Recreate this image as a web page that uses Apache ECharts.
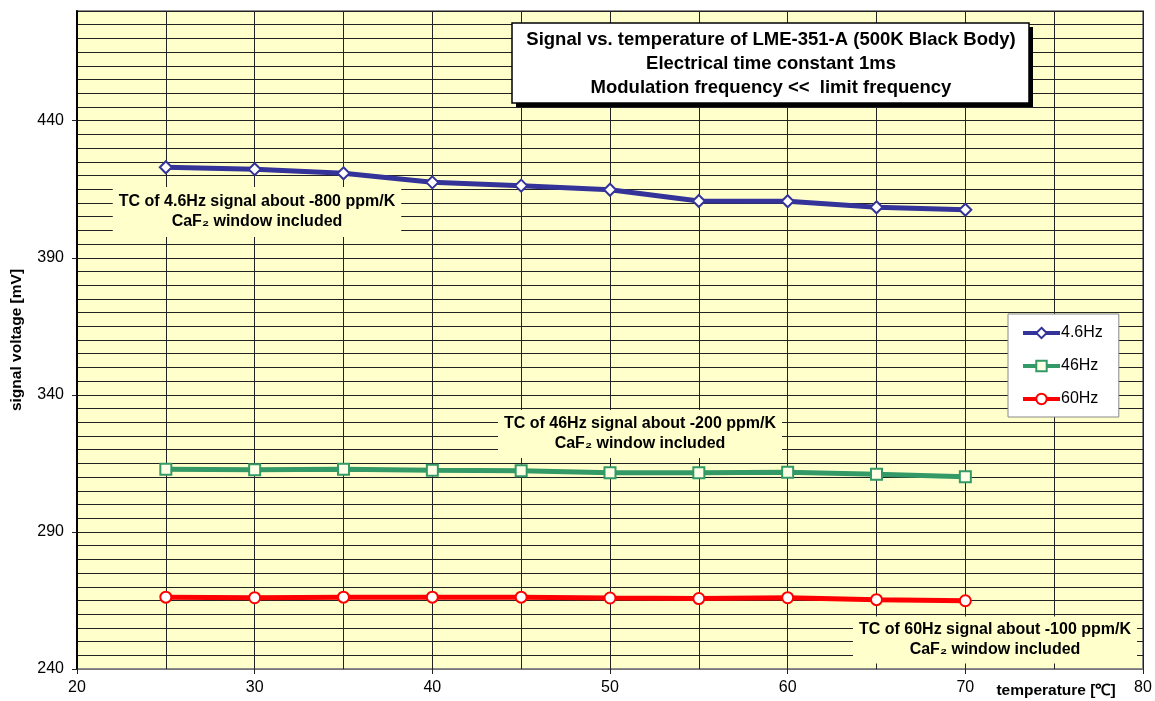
<!DOCTYPE html>
<html><head><meta charset="utf-8">
<script src="https://cdn.jsdelivr.net/npm/echarts@6/dist/echarts.min.js"></script>
<style>html,body{margin:0;padding:0;background:#fff}#c{width:1155px;height:701px}</style>
</head><body><div id="c"></div>
<script>
const temps = [25, 30, 35, 40, 45, 50, 55, 60, 65, 70];
const s4p6Hz = [423.0, 422.3, 420.8, 417.5, 416.3, 414.8, 410.7, 410.6, 408.4, 407.5];
const s46Hz = [312.9, 312.7, 312.9, 312.5, 312.3, 311.6, 311.6, 311.8, 311.0, 310.1];
const s60Hz = [266.2, 266.0, 266.2, 266.2, 266.2, 265.9, 265.7, 266.0, 265.3, 264.9];
const seriesNames = ['4.6Hz', '46Hz', '60Hz'];
const yTickLabels = [240, 290, 340, 390, 440];
const xTickLabels = [20, 30, 40, 50, 60, 70, 80];
const titleLines = ['Signal vs. temperature of LME-351-A (500K Black Body)', 'Electrical time constant 1ms', 'Modulation frequency <<  limit frequency'];
const notes = [
  ['TC of 4.6Hz signal about -800 ppm/K', 'CaF₂ window included'],
  ['TC of 46Hz signal about -200 ppm/K', 'CaF₂ window included'],
  ['TC of 60Hz signal about -100 ppm/K', 'CaF₂ window included']
];
const xName = 'temperature [℃]';
const yName = 'signal voltage [mV]';

const pair = arr => temps.map((t, i) => [t, arr[i]]);
const FONT = 'Liberation Sans, Arial, sans-serif';
const chart = echarts.init(document.getElementById('c'));
const grid = {left: 77, right: 12, top: 11, bottom: 32, show: true, backgroundColor: '#FFFFCC', borderColor: '#8c8c8c', borderWidth: 2};
const lineColors = ['#333399', '#339966', '#FF0000'];
const symbols = ['diamond', 'rect', 'circle'];
const symSizes = [12, 11, 11];
const datas = [s4p6Hz, s46Hz, s60Hz];

chart.setOption({
  animation: false,
  grid: grid,
  legend: {
    orient: 'vertical', left: 1008, top: 314,
    padding: [11, 16, 10, 13], itemGap: 17, itemWidth: 37, itemHeight: 13,
    backgroundColor: '#fff', borderColor: '#888', borderWidth: 1,
    lineStyle: {width: 4},
    textStyle: {fontFamily: FONT, fontSize: 16, color: '#000', padding: [0, 0, 0, -4]},
    data: seriesNames
  },
  xAxis: [{
    type: 'value', min: 20, max: 80, interval: 5,
    axisLine: {show: true, lineStyle: {color: '#777', width: 1}},
    axisTick: {show: false},
    axisLabel: {show: false},
    splitLine: {show: true, lineStyle: {color: '#222', width: 1}}
  }, {
    type: 'value', min: 20, max: 80, interval: 10, position: 'bottom',
    axisLine: {show: false},
    axisTick: {show: true, length: 5, lineStyle: {color: '#222'}},
    axisLabel: {fontFamily: FONT, fontSize: 16, color: '#000', margin: 11,
      formatter: v => xTickLabels.includes(v) ? String(v) : ''},
    splitLine: {show: false}
  }],
  yAxis: [{
    type: 'value', min: 240, max: 480, interval: 5,
    axisLine: {show: true, lineStyle: {color: '#000', width: 2}},
    axisTick: {show: false},
    axisLabel: {show: false},
    splitLine: {show: true, lineStyle: {color: '#222', width: 1}}
  }, {
    type: 'value', min: 240, max: 480, interval: 50, position: 'left',
    name: yName, nameLocation: 'middle', nameGap: 52, nameRotate: 90,
    nameTextStyle: {fontFamily: FONT, fontSize: 15.5, fontWeight: 'bold', color: '#000'},
    axisLine: {show: false},
    axisTick: {show: true, length: 5, lineStyle: {color: '#222'}},
    axisLabel: {fontFamily: FONT, fontSize: 16, color: '#000', margin: 13, showMaxLabel: false,
      formatter: v => yTickLabels.includes(v) ? String(v) : ''},
    splitLine: {show: false}
  }],
  series: seriesNames.map((n, i) => ({
    name: n, type: 'line', xAxisIndex: 0, yAxisIndex: 0,
    data: pair(datas[i]),
    symbol: symbols[i], symbolSize: symSizes[i], showAllSymbol: true,
    lineStyle: {color: lineColors[i], width: 5},
    itemStyle: {color: i === 1 ? '#FFFFE6' : '#fff', borderColor: lineColors[i], borderWidth: 2},
    z: 5
  })),
  graphic: [
    {type: 'rect', shape: {x: 516, y: 27, width: 517, height: 80}, style: {fill: '#000'}, z: 90, silent: true},
    {type: 'rect', shape: {x: 512, y: 23, width: 517, height: 80}, style: {fill: '#fff', stroke: '#000', lineWidth: 1.5}, z: 91, silent: true},
    {type: 'text', x: 771, y: 64, z: 92, style: {text: titleLines.join('\n'), font: 'bold 18.5px ' + FONT, fill: '#000', align: 'center', verticalAlign: 'middle', lineHeight: 24}},
    {type: 'text', x: 257, y: 212, z: 92, style: {text: notes[0].join('\n'), font: 'bold 16px ' + FONT, fill: '#000', align: 'center', verticalAlign: 'middle', lineHeight: 20, backgroundColor: '#FFFFCC', padding: [5, 6, 5, 6]}},
    {type: 'text', x: 640, y: 434, z: 92, style: {text: notes[1].join('\n'), font: 'bold 16px ' + FONT, fill: '#000', align: 'center', verticalAlign: 'middle', lineHeight: 20, backgroundColor: '#FFFFCC', padding: [4, 6, 4, 6]}},
    {type: 'text', x: 995, y: 640, z: 92, style: {text: notes[2].join('\n'), font: 'bold 16px ' + FONT, fill: '#000', align: 'center', verticalAlign: 'middle', lineHeight: 20, backgroundColor: '#FFFFCC', padding: [4, 6, 3, 6]}},
    {type: 'text', x: 1056, y: 691, z: 92, style: {text: xName, font: 'bold 15.5px ' + FONT, fill: '#000', align: 'center', verticalAlign: 'middle'}}
  ]
});
</script></body></html>
